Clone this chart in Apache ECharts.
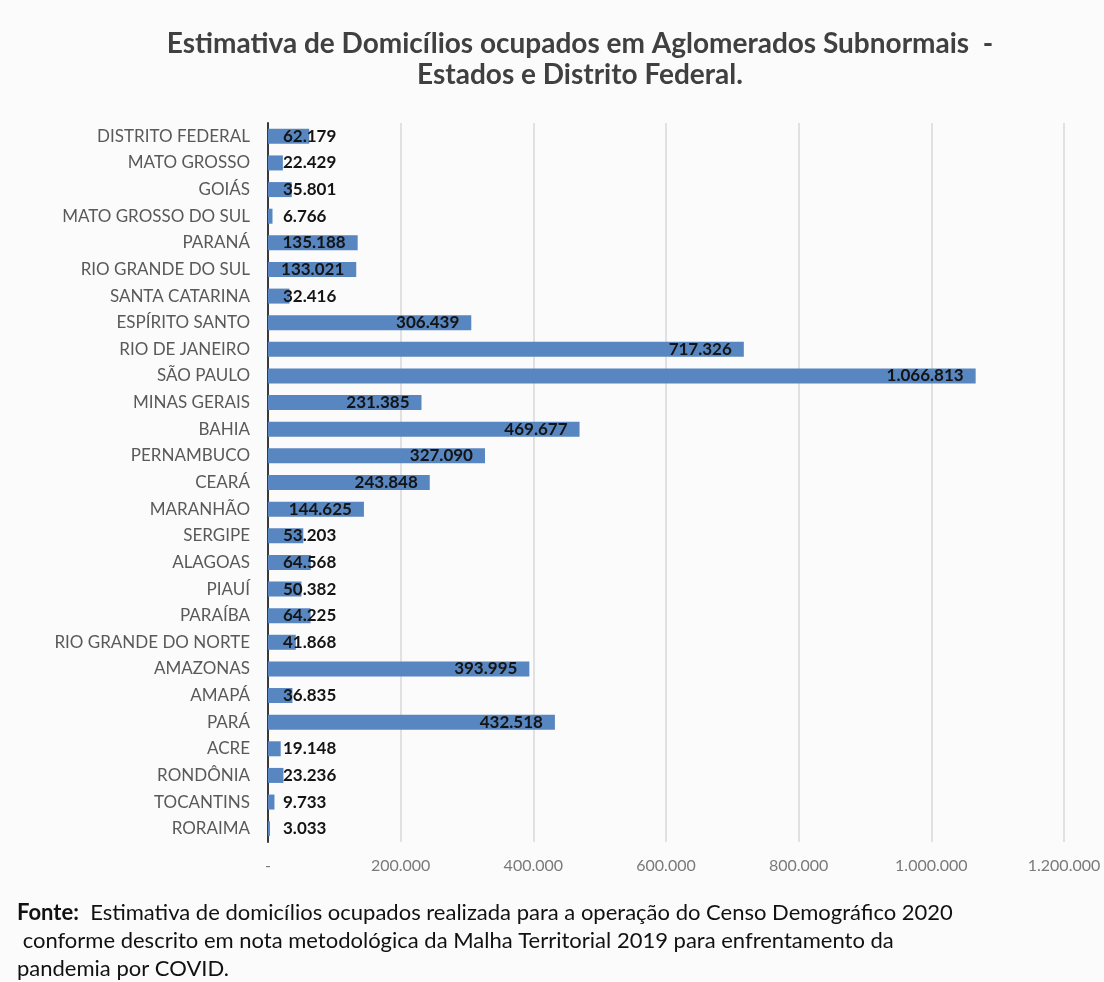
<!DOCTYPE html>
<html>
<head>
<meta charset="utf-8">
<script src="https://cdn.jsdelivr.net/npm/echarts@6/dist/echarts.min.js"></script>
<style>
html,body{margin:0;padding:0;background:#fbfbfb;}
#chart{width:1104px;height:982px;}
</style>
</head>
<body>
<div id="chart"></div>
<script>
const categories = [
  'DISTRITO FEDERAL','MATO GROSSO','GOIÁS','MATO GROSSO DO SUL','PARANÁ',
  'RIO GRANDE DO SUL','SANTA CATARINA','ESPÍRITO SANTO','RIO DE JANEIRO','SÃO PAULO',
  'MINAS GERAIS','BAHIA','PERNAMBUCO','CEARÁ','MARANHÃO','SERGIPE','ALAGOAS','PIAUÍ',
  'PARAÍBA','RIO GRANDE DO NORTE','AMAZONAS','AMAPÁ','PARÁ','ACRE','RONDÔNIA',
  'TOCANTINS','RORAIMA'
];
const values = [
  62179, 22429, 35801, 6766, 135188,
  133021, 32416, 306439, 717326, 1066813,
  231385, 469677, 327090, 243848, 144625, 53203, 64568, 50382,
  64225, 41868, 393995, 36835, 432518, 19148, 23236,
  9733, 3033
];
const axisMin = 0, axisMax = 1200000, axisInterval = 200000;
const titleLines = [
  'Estimativa de Domicílios ocupados em Aglomerados Subnormais  -',
  'Estados e Distrito Federal.'
];
const sourceLabel = 'Fonte:';
const sourceLines = [
  '  Estimativa de domicílios ocupados realizada para a operação do Censo Demográfico 2020',
  ' conforme descrito em nota metodológica da Malha Territorial 2019 para enfrentamento da',
  'pandemia por COVID.'
];

function fmt(v){ return String(v).replace(/\B(?=(\d{3})+(?!\d))/g, '.'); }

const FONT = 'Lato, "Open Sans", sans-serif';
const chart = echarts.init(document.getElementById('chart'), null, {renderer:'canvas'});

const seriesData = values.map(v => ({
  value: v,
  label: v >= 100000
    ? {position: 'insideRight', distance: 12}
    : {position: 'insideLeft', distance: 15}
}));

chart.setOption({
  backgroundColor: '#fbfbfb',
  animation: false,
  grid: {left: 268, right: 40, top: 123, bottom: 140, containLabel: false},
  xAxis: {
    type: 'value', min: axisMin, max: axisMax, interval: axisInterval,
    axisLine: {show: false}, axisTick: {show: false},
    splitLine: {show: true, lineStyle: {color: '#d9d9d9', width: 1.5}},
    axisLabel: {
      color: '#7a7a7a', fontFamily: FONT, fontSize: 16, margin: 16,
      formatter: v => v === 0 ? '-' : fmt(v)
    }
  },
  yAxis: {
    type: 'category', data: categories, inverse: true,
    axisLine: {show: true, lineStyle: {color: '#3a3a3a', width: 2}},
    axisTick: {show: false},
    axisLabel: {color: '#595959', fontFamily: FONT, fontSize: 17, margin: 18}
  },
  series: [{
    type: 'bar',
    data: seriesData,
    barWidth: 15,
    itemStyle: {color: '#5786c0'},
    label: {
      show: true, color: '#141414', fontFamily: FONT, fontWeight: 'bold', fontSize: 17,
      formatter: p => fmt(p.value)
    }
  }],
  graphic: [
    {
      type: 'text', x: 580, y: 28,
      style: {
        text: titleLines.join('\n'), fill: '#404040',
        font: 'bold 28px ' + FONT, lineHeight: 31,
        textAlign: 'center', textVerticalAlign: 'top'
      }
    },
    {
      type: 'text', x: 17, y: 899,
      style: {
        text: '{b|' + sourceLabel + '}' + sourceLines.join('\n'),
        fill: '#111', fontFamily: FONT, fontSize: 22, lineHeight: 28,
        rich: {b: {fontWeight: 'bold', fontFamily: FONT, fontSize: 22, fill: '#111'}},
        textVerticalAlign: 'top'
      }
    }
  ]
});
</script>
</body>
</html>
